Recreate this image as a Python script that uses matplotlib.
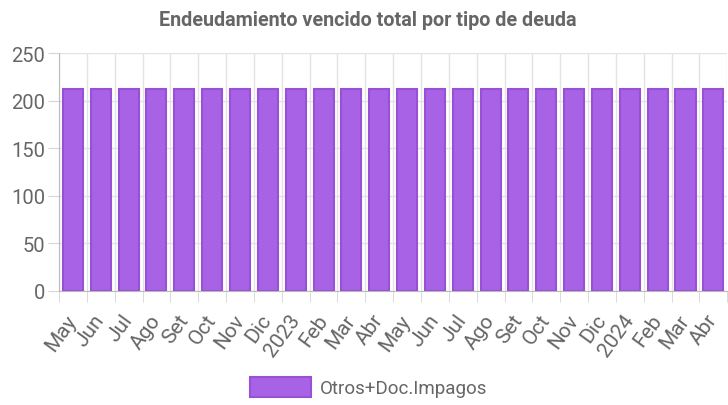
import matplotlib.pyplot as plt
import numpy as np
from matplotlib.patches import Patch

plt.rcParams['font.family'] = ['Roboto', 'DejaVu Sans']

months = ["May", "Jun", "Jul", "Ago", "Set", "Oct", "Nov", "Dic", "2023", "Feb", "Mar", "Abr",
          "May", "Jun", "Jul", "Ago", "Set", "Oct", "Nov", "Dic", "2024", "Feb", "Mar", "Abr"]
values = [212] * 24
series_name = "Otros+Doc.Impagos"

fill = "#a862e6"
edge = "#9850d6"
grey = "#666666"

fig = plt.figure(figsize=(7.28, 4.06), dpi=100)
ax = fig.add_axes([59 / 728, 1 - 292 / 406, 1 - 59 / 728 - 0.001, (292 - 54) / 406])

x = np.arange(len(months))
ax.bar(x, values, width=0.72, color=fill, edgecolor=edge, linewidth=1.5, zorder=3)

ax.set_xlim(-0.5, len(months) - 0.5)
ax.set_ylim(0, 250)
ax.set_yticks(np.arange(0, 251, 50))
ax.set_xticks(x)
ax.set_xticklabels(months, rotation=54, ha="right", va="center", rotation_mode="anchor")
ax.set_xticks(np.arange(-0.5, len(months)), minor=True)

ax.grid(True, axis="y", color="#e3e3e3", linewidth=1, zorder=0)
ax.grid(True, axis="x", which="minor", color="#e3e3e3", linewidth=1, zorder=0)
ax.tick_params(axis="x", which="major", length=0, pad=18, labelsize=15, labelcolor=grey)
ax.tick_params(axis="x", which="minor", length=8, color="#d5d5d5")
ax.tick_params(axis="y", length=8, color="#d5d5d5", labelsize=14.5, labelcolor=grey, pad=2)

for s in ["top", "right"]:
    ax.spines[s].set_visible(False)
ax.spines["left"].set_color("#bbbbbb")
ax.spines["bottom"].set_color("#bbbbbb")

fig.text(0.505, 1 - 21 / 406, "Endeudamiento vencido total por tipo de deuda",
         ha="center", va="center", fontsize=14.2, fontweight="bold", color=grey)

fig.legend(handles=[Patch(facecolor=fill, edgecolor=edge, linewidth=1.5, label=series_name)],
           loc="center", bbox_to_anchor=(0.506, 1 - 388 / 406), frameon=False,
           handlelength=3.3, handleheight=1.25, fontsize=13.5, labelcolor=grey, handletextpad=0.45)

fig.savefig("out.png", dpi=100)
